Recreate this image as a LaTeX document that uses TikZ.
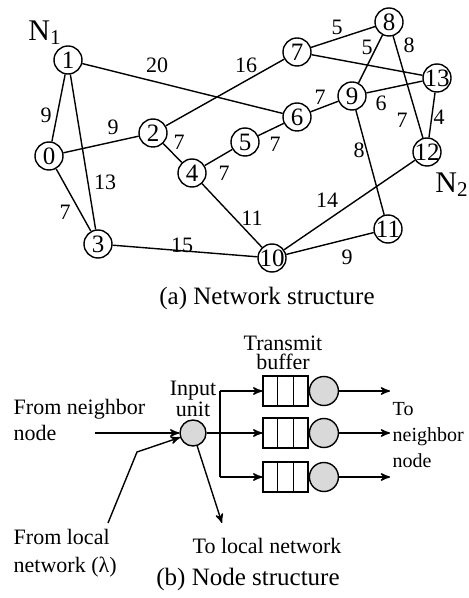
\documentclass[tikz,border=0pt]{standalone}
\usepackage{fontspec}
\setmainfont{Liberation Serif}
\usetikzlibrary{arrows, positioning, calc}

\begin{document}
\begin{tikzpicture}[x=0.5pt, y=-0.5pt, >=stealth', line width=0.7pt,
    vertex/.style={circle, draw, fill=white, minimum size=14pt, inner sep=-1.5pt, font=\fontsize{12.5}{12.5}\selectfont},
    wt/.style={inner sep=0pt, font=\fontsize{11}{11}\selectfont},
    txt/.style={inner sep=0pt, font=\fontsize{11}{13}\selectfont},
    figcap/.style={inner sep=0pt, font=\fontsize{12.5}{14}\selectfont},
    unit/.style={circle, draw, fill=gray!30, minimum size=13pt, inner sep=0pt},
    buffer/.style={rectangle, draw, minimum width=22.5pt, minimum height=15pt, inner sep=0pt},
    server/.style={circle, draw, fill=gray!30, minimum size=14.5pt, inner sep=0pt}]
    \useasboundingbox (0,0) rectangle (468,598);

    % (a) network
    \node[vertex] (v0) at (49,156) {0};
    \node[vertex] (v1) at (68,60) {1};
    \node[vertex] (v2) at (153,133) {2};
    \node[vertex] (v3) at (98,244) {3};
    \node[vertex] (v4) at (192,173) {4};
    \node[vertex] (v5) at (245,142) {5};
    \node[vertex] (v6) at (297,117) {6};
    \node[vertex] (v7) at (297,52) {7};
    \node[vertex] (v8) at (389,22) {8};
    \node[vertex] (v9) at (352,96) {9};
    \node[vertex] (v10) at (272,258) {10};
    \node[vertex] (v11) at (388,229) {11};
    \node[vertex] (v12) at (427,152) {12};
    \node[vertex] (v13) at (437,78) {13};

    \draw (v1) -- (v0);
    \draw (v1) -- (v3);
    \draw (v1) -- (v6);
    \draw (v0) -- (v2);
    \draw (v0) -- (v3);
    \draw (v2) -- (v7);
    \draw (v2) -- (v4);
    \draw (v4) -- (v5);
    \draw (v4) -- (v10);
    \draw (v5) -- (v6);
    \draw (v6) -- (v9);
    \draw (v7) -- (v8);
    \draw (v7) -- (v13);
    \draw (v8) -- (v9);
    \draw (v8) -- (v12);
    \draw (v9) -- (v13);
    \draw (v9) -- (v11);
    \draw (v13) -- (v12);
    \draw (v3) -- (v10);
    \draw (v10) -- (v12);
    \draw (v10) -- (v11);

    % weights
    \node[wt] (w16) at (157,65) {20};
    \node[wt] (w10) at (46,115) {9};
    \node[wt] (w02) at (113,127) {9};
    \node[wt] (w24) at (179,142) {7};
    \node[wt] (w13) at (105,182) {13};
    \node[wt] (w03) at (65,212) {7};
    \node[wt] (w45) at (224,173) {7};
    \node[wt] (w310) at (182,245) {15};
    \node[wt] (w410) at (252,218) {11};
    \node[wt] (w27) at (246,65) {16};
    \node[wt] (w56) at (275,144) {7};
    \node[wt] (w69) at (320,97) {7};
    \node[wt] (w78) at (337,27) {5};
    \node[wt] (w89) at (367,47) {5};
    \node[wt] (w812) at (409,45) {8};
    \node[wt] (w913) at (381,103) {6};
    \node[wt] (w713) at (402,120) {7};
    \node[wt] (w1213) at (439,117) {4};
    \node[wt] (w911) at (359,150) {8};
    \node[wt] (w1012) at (327,200) {14};
    \node[wt] (w1011) at (347,257) {9};

    \node[inner sep=0pt, font=\fontsize{15}{15}\selectfont] (n1) at (45,33) {N\textsubscript{1}};
    \node[inner sep=0pt, font=\fontsize{15}{15}\selectfont] (n2) at (452,185) {N\textsubscript{2}};

    \node[figcap] (capa) at (267,298) {(a) Network structure};

    % (b) node
    \node[unit] (in) at (193,433) {};
    \node[txt, align=center, font=\fontsize{11}{9.5}\selectfont] (inlbl) at (193,399) {Input\\unit};

    \node[buffer] (b1) at (285.5,391) {};
    \node[buffer] (b2) at (285.5,433) {};
    \node[buffer] (b3) at (285.5,477) {};
    \node[server, right=0pt of b1] (s1) {};
    \node[server, right=0pt of b2] (s2) {};
    \node[server, right=0pt of b3] (s3) {};
    \foreach \b in {b1,b2,b3}
      \foreach \f in {1/3,2/3}
        \draw ($(\b.north west)!\f!(\b.north east)$) -- ($(\b.south west)!\f!(\b.south east)$);

    \node[txt, align=center, font=\fontsize{11}{9.5}\selectfont] (tblbl) at (283,353) {Transmit\\buffer};

    \coordinate (j1) at (220,391);
    \coordinate (j2) at (220,433);
    \coordinate (j3) at (220,477);
    \draw (in) -- (j2);
    \draw (j1) -- (j3);
    \draw[->] (j1) -- (b1);
    \draw[->] (j2) -- (b2);
    \draw[->] (j3) -- (b3);

    \coordinate (o1) at (390,391);
    \coordinate (o2) at (390,433);
    \coordinate (o3) at (390,477);
    \draw[->] (s1) -- (o1);
    \draw[->] (s2) -- (o2);
    \draw[->] (s3) -- (o3);
    \node[txt, align=left, anchor=west, font=\fontsize{10}{13}\selectfont] (tonb) at (392,435) {To\\neighbor\\node};

    \node[txt, align=left, anchor=west] (fromnb) at (13,420) {From neighbor\\node};
    \coordinate (nb) at (95,433);
    \draw[->] (nb) -- (in);

    \node[txt, align=left, anchor=west, font=\fontsize{11}{14}\selectfont] (fromlc) at (13,553) {From local\\network (λ)};
    \coordinate (lc) at (108,523);
    \coordinate (lk) at (137,452);
    \draw[->] (lc) -- (lk) -- (in);

    \coordinate (tl) at (222,523);
    \draw[->] (in) -- (tl);
    \node[txt] (tolc) at (267,546) {To local network};

    \node[figcap] (capb) at (248,579) {(b) Node structure};
\end{tikzpicture}
\end{document}
